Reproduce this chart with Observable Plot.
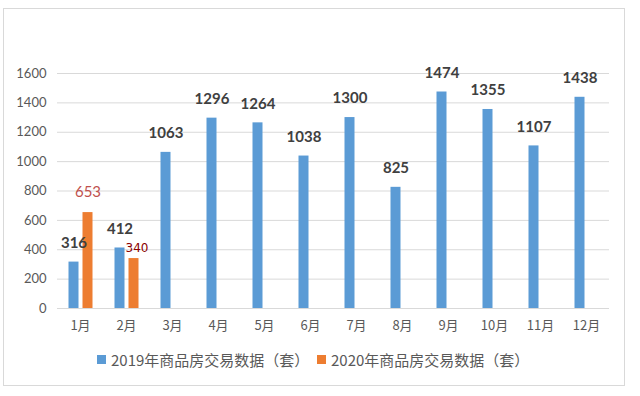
<!DOCTYPE html>
<html>
<head>
<meta charset="utf-8">
<script src="https://cdn.jsdelivr.net/npm/d3@7"></script>
<script src="https://cdn.jsdelivr.net/npm/@observablehq/plot@0.6"></script>
<style>
  html, body { margin: 0; padding: 0; background: #fff; }
  #wrap { position: relative; width: 640px; height: 396px; overflow: hidden; font-family: Lato, "Noto Sans CJK SC", sans-serif; }
  #frame { position: absolute; left: 3px; top: 8px; width: 622px; height: 378px; border: 1px solid #d9d9d9; box-sizing: border-box; }
  #chart { position: absolute; left: 0; top: 0; }
  #legend { position: absolute; top: 349px; left: 0; width: 640px; height: 20px; font-family: "Noto Sans CJK SC", sans-serif; font-size: 15px; color: #595959; }
  .item { position: absolute; top: 0; display: flex; align-items: center; height: 20px; }
  .sw { width: 9px; height: 9px; margin-right: 5px; }
</style>
</head>
<body>
<div id="wrap">
  <div id="frame"></div>
  <div id="chart"></div>
  <div id="legend"></div>
</div>
<script>
const months = ["1月","2月","3月","4月","5月","6月","7月","8月","9月","10月","11月","12月"];
const sales2019 = [316, 412, 1063, 1296, 1264, 1038, 1300, 825, 1474, 1355, 1107, 1438];
const sales2020 = [653, 340];
const seriesNames = ["2019年商品房交易数据（套）", "2020年商品房交易数据（套）"];
const seriesColors = ["#5b9bd5", "#ed7d31"];
const yTicks = [0, 200, 400, 600, 800, 1000, 1200, 1400, 1600];

const rows2019 = months.map((m, i) => ({month: m, series: seriesNames[0], value: sales2019[i]}));
const rows2020 = sales2020.map((v, i) => ({month: months[i], series: seriesNames[1], value: v}));
const rows = rows2019.concat(rows2020);

const chart = Plot.plot({
  width: 640,
  height: 340,
  marginTop: 73,
  marginBottom: 32,
  marginLeft: 56.5,
  marginRight: 31.5,
  style: {fontFamily: "Lato, 'Noto Sans CJK SC', sans-serif", background: "transparent"},
  fx: {domain: months, padding: 0, label: null},
  x: {domain: seriesNames, axis: null, paddingInner: 0.31, paddingOuter: 0.741},
  y: {domain: [0, 1600], label: null},
  color: {domain: seriesNames, range: seriesColors},
  marks: [
    Plot.gridY(yTicks, {stroke: "#d9d9d9", strokeOpacity: 1}),
    Plot.axisY(yTicks, {tickSize: 0, tickPadding: 11, label: null, fontSize: 13, fill: "#595959", tickFormat: d => String(d)}),
    Plot.axisFx({anchor: "bottom", tickSize: 0, tickPadding: 12, label: null, fontSize: 13, fill: "#595959", fontFamily: "'Noto Sans CJK SC', sans-serif"}),
    Plot.barY(rows, {fx: "month", x: "series", y: "value", fill: "series"}),
    Plot.text(rows2019, {fx: "month", x: "series", y: "value", text: d => String(d.value), dy: -19, fontWeight: "bold", fontSize: 15, fill: "#404040"}),
    Plot.text(rows2020.filter(d => d.month === months[0]), {fx: "month", x: "series", y: "value", text: d => String(d.value), dy: -20, fontSize: 15, fill: "#c0504d"}),
    Plot.text(rows2020.filter(d => d.month === months[1]), {fx: "month", x: "series", y: "value", text: d => String(d.value), dy: -10, dx: 3, fontSize: 12, fontFamily: "DejaVu Sans", fill: "#8b0000"})
  ]
});
document.getElementById("chart").appendChild(chart);

const legend = document.getElementById("legend");
const legendLefts = [97, 317];
seriesNames.forEach((name, i) => {
  const item = document.createElement("div");
  item.className = "item";
  item.style.left = legendLefts[i] + "px";
  const sw = document.createElement("span");
  sw.className = "sw";
  sw.style.background = seriesColors[i];
  const label = document.createElement("span");
  label.textContent = name;
  item.appendChild(sw);
  item.appendChild(label);
  legend.appendChild(item);
});
</script>
</body>
</html>
